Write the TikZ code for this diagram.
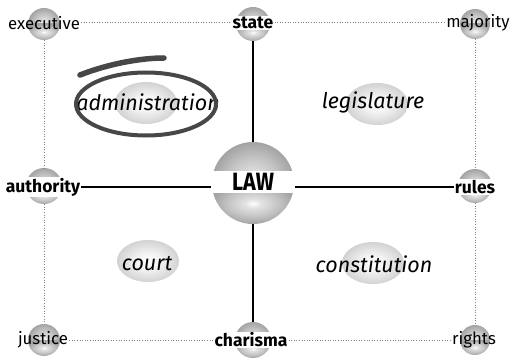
\documentclass[tikz,border=0pt]{standalone}
\usepackage{fontspec}
\setmainfont{Fira Sans}
\usetikzlibrary{shapes.geometric}
\pgfdeclareradialshading{sph}{\pgfpoint{0bp}{0bp}}{color(0bp)=(white); color(5bp)=(gray!22); color(15bp)=(gray!45); color(25bp)=(gray!72); color(50bp)=(gray!72)}
\pgfdeclareradialshading{ell}{\pgfpoint{0bp}{0bp}}{color(0bp)=(white); color(10bp)=(gray!10); color(25bp)=(gray!35); color(50bp)=(gray!35)}
\begin{document}
\begin{tikzpicture}[x=1pt,y=-1pt,
  globe/.style={circle,inner sep=0pt,minimum size=#1,
    path picture={
      \shade[shading=sph] (path picture bounding box.west) rectangle (path picture bounding box.north east);
      \shade[shading=sph] (path picture bounding box.west) rectangle (path picture bounding box.south east);
    }},
  blob/.style={ellipse,inner sep=0pt,minimum width=62pt,minimum height=42pt,shading=ell},
  reglabel/.style={inner sep=1pt,font=\fontsize{16.8}{19}\selectfont},
  boldlabel/.style={inner sep=1pt,fill=white,font=\fontsize{17.5}{20}\selectfont\bfseries},
  itlabel/.style={inner sep=0pt,font=\fontsize{21.5}{24}\selectfont\itshape},
  solidline/.style={line width=1.6pt,black},
  dotline/.style={line width=1pt,gray,dash pattern=on 1pt off 1.6pt},
  brush/.style={draw=black!72,line cap=round}
]
\useasboundingbox (0,0) rectangle (510,358);

% spheres
\node[globe=32pt] (sExe) at (44,24) {};
\node[globe=34pt] (sSta) at (253,24) {};
\node[globe=30pt] (sMaj) at (475,24) {};
\node[globe=36pt] (sAut) at (44,186) {};
\node[globe=34pt] (sRul) at (475,186) {};
\node[globe=32pt] (sJus) at (44,340) {};
\node[globe=36pt] (sCha) at (253,340) {};
\node[globe=30pt] (sRig) at (475,340) {};
\node[globe=82pt] (sLaw) at (253,183) {};

% grey blobs
\node[blob] (bAdm) at (146,103) {};
\node[blob] (bLeg) at (377,104) {};
\node[blob] (bCou) at (148,261) {};
\node[blob] (bCon) at (373,263) {};

% labels
\node[reglabel] (lExe) at (44,23) {executive};
\node[boldlabel] (lSta) at (253,23) {state};
\node[reglabel] (lMaj) at (478,23) {majority};
\node[boldlabel] (lAut) at (43,187) {authority};
\node[boldlabel] (lRul) at (475,187) {rules};
\node[reglabel] (lJus) at (43,340) {justice};
\node[boldlabel] (lCha) at (251,340) {charisma};
\node[reglabel] (lRig) at (474,340) {rights};
\node[fill=white,inner sep=0pt,minimum width=84pt,minimum height=22pt,
      font=\fontsize{25}{28}\selectfont\bfseries] (lLaw) at (253,182) {\scalebox{0.86}[1]{LAW}};

\node[itlabel] (tAdm) at (148,102) {administration};
\node[itlabel] (tLeg) at (373,102) {legislature};
\node[itlabel] (tCou) at (147,264) {court};
\node[itlabel] (tCon) at (374,264) {constitution};

% solid connectors
\draw[solidline] (lAut.east) -- (lLaw.west |- lAut.east);
\draw[solidline] (lLaw.east |- lRul.west) -- (lRul.west);
\draw[solidline] (sSta.south) -- (sLaw.north);
\draw[solidline] (sLaw.south) -- (sCha.north);

% dotted connectors
\draw[dotline] (lExe.east) -- (lSta.west);
\draw[dotline] (lSta.east) -- (lMaj.west);
\draw[dotline] (lJus.east) -- (lCha.west);
\draw[dotline] (lCha.east) -- (lRig.west);
\draw[dotline] (sExe.south) -- (sAut.north);
\draw[dotline] (sAut.south) -- (sJus.north);
\draw[dotline] (sMaj.south) -- (sRul.north);
\draw[dotline] (sRul.south) -- (sRig.north);

% hand-drawn circle
\draw[brush,line width=4pt] (146,104) ellipse [x radius=70, y radius=31.5];
\draw[brush,line width=5.5pt] (80,75) .. controls (108,64) and (140,58) .. (164,58);
\end{tikzpicture}
\end{document}
